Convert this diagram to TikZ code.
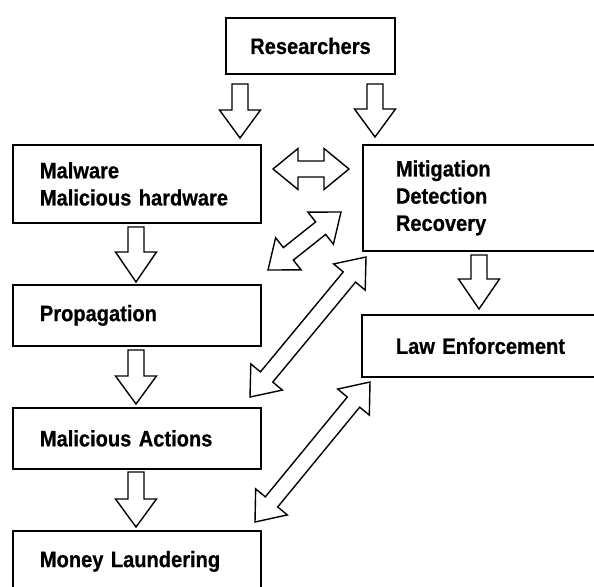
\documentclass[tikz,border=0pt]{standalone}
\usepackage{fontspec}
\newfontfamily\labelfont{Liberation Sans}[FakeStretch=0.90,FakeBold=0.6]
\usetikzlibrary{calc}
\tikzset{
  bsw/.store in=\basw, bhw/.store in=\bahw, bhl/.store in=\bahl,
  bsw=8pt, bhw=20.5pt, bhl=28pt,
  box/.style={draw=black, line width=1.8pt, inner ysep=0pt,
    font=\labelfont\bfseries\fontsize{22.3}{27.2}\selectfont},
  lbox/.style={box, anchor=north west, align=left},
  singleblock/.style={draw=black, fill=white, line width=1.4pt, line join=miter,
    to path={
    let \p1=($(\tikztotarget)-(\tikztostart)$), \n1={atan2(\y1,\x1)} in
    ($(\tikztostart)+(\n1+90:\basw)$)
    -- ($(\tikztotarget)+(\n1+180:\bahl)+(\n1+90:\basw)$)
    -- ($(\tikztotarget)+(\n1+180:\bahl)+(\n1+90:\bahw)$)
    -- (\tikztotarget)
    -- ($(\tikztotarget)+(\n1+180:\bahl)+(\n1-90:\bahw)$)
    -- ($(\tikztotarget)+(\n1+180:\bahl)+(\n1-90:\basw)$)
    -- ($(\tikztostart)+(\n1-90:\basw)$) -- cycle}},
  doubleblock/.style={draw=black, fill=white, line width=1.4pt, line join=miter,
    to path={
    let \p1=($(\tikztotarget)-(\tikztostart)$), \n1={atan2(\y1,\x1)} in
    (\tikztostart)
    -- ($(\tikztostart)+(\n1:\bahl)+(\n1+90:\bahw)$)
    -- ($(\tikztostart)+(\n1:\bahl)+(\n1+90:\basw)$)
    -- ($(\tikztotarget)+(\n1+180:\bahl)+(\n1+90:\basw)$)
    -- ($(\tikztotarget)+(\n1+180:\bahl)+(\n1+90:\bahw)$)
    -- (\tikztotarget)
    -- ($(\tikztotarget)+(\n1+180:\bahl)+(\n1-90:\bahw)$)
    -- ($(\tikztotarget)+(\n1+180:\bahl)+(\n1-90:\basw)$)
    -- ($(\tikztostart)+(\n1:\bahl)+(\n1-90:\basw)$)
    -- ($(\tikztostart)+(\n1:\bahl)+(\n1-90:\bahw)$)
    -- cycle}}
}
\begin{document}
\begin{tikzpicture}[x=1pt,y=-1pt]
\useasboundingbox (0,0) rectangle (594,586);
\clip (0,0) rectangle (594,586);
\fill[white] (0,0) rectangle (594,586);

% boxes
\node[box, minimum width=169pt, minimum height=56pt, align=center] (res) at (310.5,46) {Researchers};
\node[lbox, text width=194pt, inner xsep=27pt, minimum height=78pt] (mal) at (12,144) {Malware\\Malicious hardware};
\node[lbox, text width=174pt, inner xsep=33pt, minimum height=106pt] (mit) at (362,144) {Mitigation\\Detection\\Recovery};
\node[lbox, text width=194pt, inner xsep=27pt, minimum height=61pt] (prop) at (12,284) {Propagation};
\node[lbox, text width=173pt, inner xsep=34pt, minimum height=62pt] (law) at (361,314) {Law Enforcement};
\node[lbox, text width=194pt, inner xsep=27pt, minimum height=61pt] (act) at (12,407) {Malicious Actions};
\node[lbox, text width=194pt, inner xsep=27pt, minimum height=61pt] (mon) at (12,530) {Money Laundering};

% connector end points
\coordinate (r1s) at (240,84);  \coordinate (r1e) at (240,138);
\coordinate (r2s) at (375,84);  \coordinate (r2e) at (375,137);
\coordinate (m1s) at (136,227); \coordinate (m1e) at (136,282);
\coordinate (p1s) at (136,350); \coordinate (p1e) at (136,404);
\coordinate (a1s) at (136,472); \coordinate (a1e) at (136,527);
\coordinate (t1s) at (479,255); \coordinate (t1e) at (479,309);
\coordinate (h1a) at (273,169); \coordinate (h1b) at (349,169);
\coordinate (d1a) at (268,270); \coordinate (d1b) at (341,212);
\coordinate (d2a) at (250,397); \coordinate (d2b) at (366,257);
\coordinate (d3a) at (255,522); \coordinate (d3b) at (370,382);

% single block arrows
\draw[singleblock] (r1s) to (r1e);
\draw[singleblock] (r2s) to (r2e);
\draw[singleblock, bhl=30pt] (m1s) to (m1e);
\draw[singleblock] (p1s) to (p1e);
\draw[singleblock] (a1s) to (a1e);
\draw[singleblock, bhl=30pt] (t1s) to (t1e);

% double block arrows
\draw[doubleblock, bhl=25pt] (h1a) to (h1b);
\draw[doubleblock, bhl=26pt] (d1a) to (d1b);
\draw[doubleblock, bhl=26pt] (d2a) to (d2b);
\draw[doubleblock, bhl=26pt] (d3a) to (d3b);
\end{tikzpicture}
\end{document}
